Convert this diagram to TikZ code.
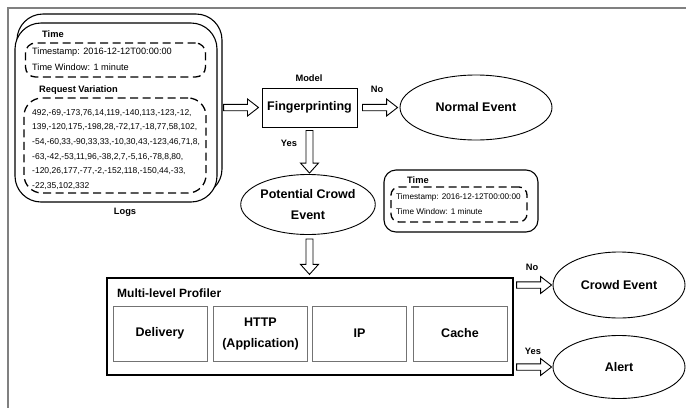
\documentclass[tikz,border=0pt]{standalone}
\usepackage{fontspec}
\setmainfont{Liberation Sans}
\usetikzlibrary{calc,shapes.geometric}
\tikzset{
  big/.style={font=\fontsize{12.5}{21}\selectfont\bfseries, align=center},
  lab/.style={font=\fontsize{9.3}{11}\selectfont\bfseries, inner sep=0pt},
  txta/.style={font=\fontsize{9.2}{11}\selectfont, inner sep=0pt, anchor=west},
  txtb/.style={font=\fontsize{8.5}{11}\selectfont, inner sep=0pt, anchor=west},
  txtc/.style={font=\fontsize{8.2}{11}\selectfont, inner sep=0pt, anchor=west},
  solidbox/.style={draw, line width=1pt, inner sep=0pt},
  roundbox/.style={draw, line width=1.1pt, rounded corners=26pt, fill=white, inner sep=0pt},
  dashbox/.style={draw, line width=1.3pt, dash pattern=on 8pt off 4.5pt, inner sep=0pt},
  subbox/.style={draw=black!55, line width=0.9pt, inner sep=0pt, minimum width=94pt, minimum height=55pt, big},
  oval/.style={draw, ellipse, line width=0.9pt, inner sep=0pt, big},
  hollow/.style={draw, line width=0.9pt, fill=white, line join=miter}
}
\newcommand\hright[2]{\draw[hollow] let \p1=#1, \p2=#2 in
  (\x1,\y1+3.2pt) -- (\x2-11pt,\y1+3.2pt) -- (\x2-11pt,\y1+8.5pt) -- (\x2,\y1)
  -- (\x2-11pt,\y1-8.5pt) -- (\x2-11pt,\y1-3.2pt) -- (\x1,\y1-3.2pt) -- cycle;}
\newcommand\hdown[2]{\draw[hollow] let \p1=#1, \p2=#2 in
  (\x1-3.5pt,\y1) -- (\x1-3.5pt,\y2+10pt) -- (\x1-9pt,\y2+10pt) -- (\x1,\y2)
  -- (\x1+9pt,\y2+10pt) -- (\x1+3.5pt,\y2+10pt) -- (\x1+3.5pt,\y1) -- cycle;}
\begin{document}
\begin{tikzpicture}[x=1pt,y=-1pt]
\useasboundingbox (0,0) rectangle (686,408);
\draw[black!50, line width=1.5pt] (686,8) -- (8,8) -- (8,408);

% Logs stack
\node[roundbox, minimum width=205pt, minimum height=181pt] (logsback) at (119.5,104.5) {};
\node[roundbox, minimum width=202pt, minimum height=179pt] (logsfront) at (116,112.5) {};
\node[lab] (logslab) at (125,212) {Logs};
\node[lab, anchor=west] (time1) at (42,34) {Time};
\node[dashbox, rounded corners=10pt, minimum width=180pt, minimum height=34pt] (tbox1) at (115.5,60) {};
\node[txta] (ts1) at (32,52.5) {Timestamp: 2016-12-12T00:00:00};
\node[txta] (tw1) at (32,67) {Time Window: 1 minute};
\node[lab, anchor=west] (rv) at (39,90) {Request Variation};
\node[dashbox, rounded corners=18pt, minimum width=182pt, minimum height=95pt] (rvbox) at (115,145.5) {};
\foreach \t [count=\i] in {{492,-69,-173,76,14,119,-140,113,-123,-12,},
  {139,-120,175,-198,28,-72,17,-18,77,58,102,},
  {-54,-60,33,-90,33,33,-10,30,43,-123,46,71,8,},
  {-63,-42,-53,11,96,-38,2,7,-5,16,-78,8,80,},
  {-120,26,177,-77,-2,-152,118,-150,44,-33,},
  {-22,35,102,332}}
  \node[txtb] (num\i) at (32,98+14.7*\i) {\t};

% Fingerprinting
\node[solidbox, big, minimum width=95pt, minimum height=39pt] (fp) at (309.5,107.5) {Fingerprinting};
\node[lab] (model) at (309,78) {Model};
\node[oval, minimum width=152pt, minimum height=65pt] (ne) at (476,107.5) {Normal Event};
\node[lab] (no1) at (377,89) {No};
\node[lab] (yes1) at (289,143) {Yes};
\node[oval, minimum width=120pt, minimum height=60pt] (pce) at (308,204.5) {Potential Crowd\\Event};

% Time box 2
\node[draw, line width=1.1pt, rounded corners=12pt, inner sep=0pt, minimum width=154pt, minimum height=62pt] (tbox2o) at (461,201) {};
\node[lab, anchor=west] (time2) at (407,180) {Time};
\node[dashbox, rounded corners=8pt, minimum width=136pt, minimum height=35pt] (tbox2) at (459,204.5) {};
\node[txtc] (ts2) at (396,197) {Timestamp: 2016-12-12T00:00:00};
\node[txtc] (tw2) at (396,212) {Time Window: 1 minute};

% Profiler
\node[solidbox, line width=1.2pt, minimum width=406pt, minimum height=97pt] (prof) at (310,326.5) {};
\node[lab, font=\fontsize{12}{14}\selectfont\bfseries, anchor=west] (proflab) at (117,293) {Multi-level Profiler};
\node[subbox] (deliv) at (160,333.5) {Delivery};
\node[subbox] (http) at (260.5,333.5) {HTTP\\(Application)};
\node[subbox] (ip) at (359.5,333.5) {IP};
\node[subbox] (cache) at (460,333.5) {Cache};

\node[oval, minimum width=132pt, minimum height=66pt] (ce) at (619,285) {Crowd Event};
\node[oval, minimum width=132pt, minimum height=63pt] (alert) at (619,367) {Alert};
\node[lab] (no2) at (532,267) {No};
\node[lab] (yes2) at (533,351) {Yes};

% hollow arrows
\hright{([xshift=1pt]logsback.east |- fp.west)}{([xshift=-3pt]fp.west)}
\hright{([xshift=5pt]fp.east)}{([xshift=-2pt]ne.west)}
\hdown{([yshift=-3pt]fp.south)}{([yshift=1pt]pce.north -| fp.south)}
\hdown{([yshift=-4pt]pce.south -| fp.south)}{([yshift=3pt]prof.north -| fp.south)}
\hright{([xshift=3pt]prof.east |- ce.west)}{([xshift=-1pt]ce.west)}
\hright{([xshift=3pt]prof.east |- alert.west)}{([xshift=-1pt]alert.west)}
\end{tikzpicture}
\end{document}
